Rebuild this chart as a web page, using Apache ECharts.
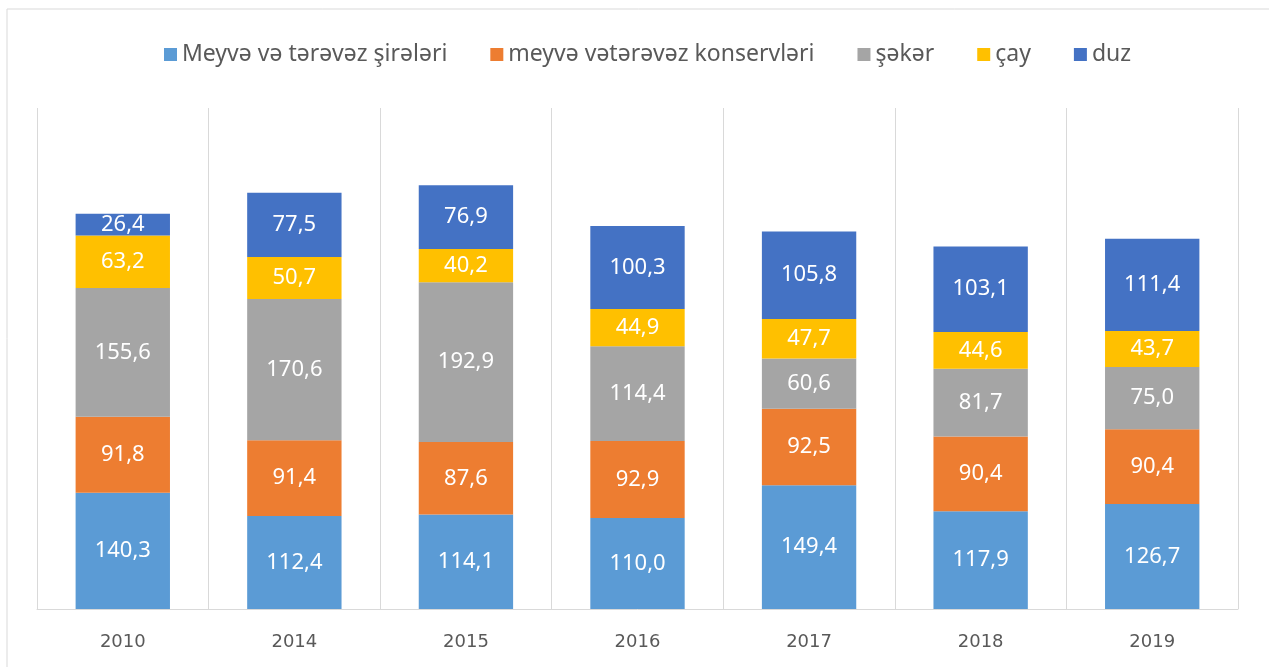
<!DOCTYPE html>
<html>
<head>
<meta charset="utf-8">
<script src="https://cdn.jsdelivr.net/npm/echarts@6/dist/echarts.min.js"></script>
<style>
  html, body { margin: 0; padding: 0; background: #fff; }
  #chart { width: 1269px; height: 667px; }
</style>
</head>
<body>
<div id="chart"></div>
<script>
const years = ['2010', '2014', '2015', '2016', '2017', '2018', '2019'];
const seriesNames = ['Meyvə və tərəvəz şirələri', 'meyvə vətərəvəz konservləri', 'şəkər', 'çay', 'duz'];
const juices   = [140.3, 112.4, 114.1, 110.0, 149.4, 117.9, 126.7];
const canned   = [91.8, 91.4, 87.6, 92.9, 92.5, 90.4, 90.4];
const sugar    = [155.6, 170.6, 192.9, 114.4, 60.6, 81.7, 75.0];
const tea      = [63.2, 50.7, 40.2, 44.9, 47.7, 44.6, 43.7];
const salt     = [26.4, 77.5, 76.9, 100.3, 105.8, 103.1, 111.4];
const colors   = ['#5B9BD5', '#ED7D31', '#A5A5A5', '#FFC000', '#4472C4'];

const FONT = '"Noto Sans", "Open Sans", sans-serif';
const values = [juices, canned, sugar, tea, salt];

const chart = echarts.init(document.getElementById('chart'), null, { renderer: 'canvas' });

chart.setOption({
  backgroundColor: '#fff',
  animation: false,
  color: colors,
  graphic: [{
    type: 'rect',
    shape: { x: 7, y: 9, width: 1300, height: 700 },
    style: { fill: 'none', stroke: '#d9d9d9', lineWidth: 1 },
    silent: true,
  }],
  legend: {
    top: 38,
    left: 159,
    itemWidth: 13,
    itemHeight: 13,
    itemGap: 43,
    icon: 'rect',
    textStyle: { color: '#595959', fontSize: 23, fontFamily: FONT },
    data: seriesNames,
  },
  grid: { left: 37, right: 31, top: 108, bottom: 58, containLabel: false },
  xAxis: {
    type: 'category',
    data: years,
    boundaryGap: true,
    axisLine: { lineStyle: { color: '#d9d9d9' } },
    axisTick: { show: false },
    axisLabel: { color: '#595959', fontSize: 18, fontFamily: '"DejaVu Sans", sans-serif', margin: 24 },
    splitLine: { show: true, interval: 0, lineStyle: { color: '#d9d9d9' } },
  },
  yAxis: {
    type: 'value',
    min: 0,
    max: 605,
    show: false,
    splitLine: { show: false },
  },
  series: seriesNames.map((name, i) => ({
    name,
    type: 'bar',
    stack: 'total',
    barWidth: '55%',
    data: values[i],
    itemStyle: { color: colors[i] },
    label: {
      show: true,
      position: 'inside',
      color: '#fff',
      fontSize: 22,
      fontFamily: FONT,
      formatter: (p) => p.value.toFixed(1).replace('.', ','),
    },
  })),
});
</script>
</body>
</html>
